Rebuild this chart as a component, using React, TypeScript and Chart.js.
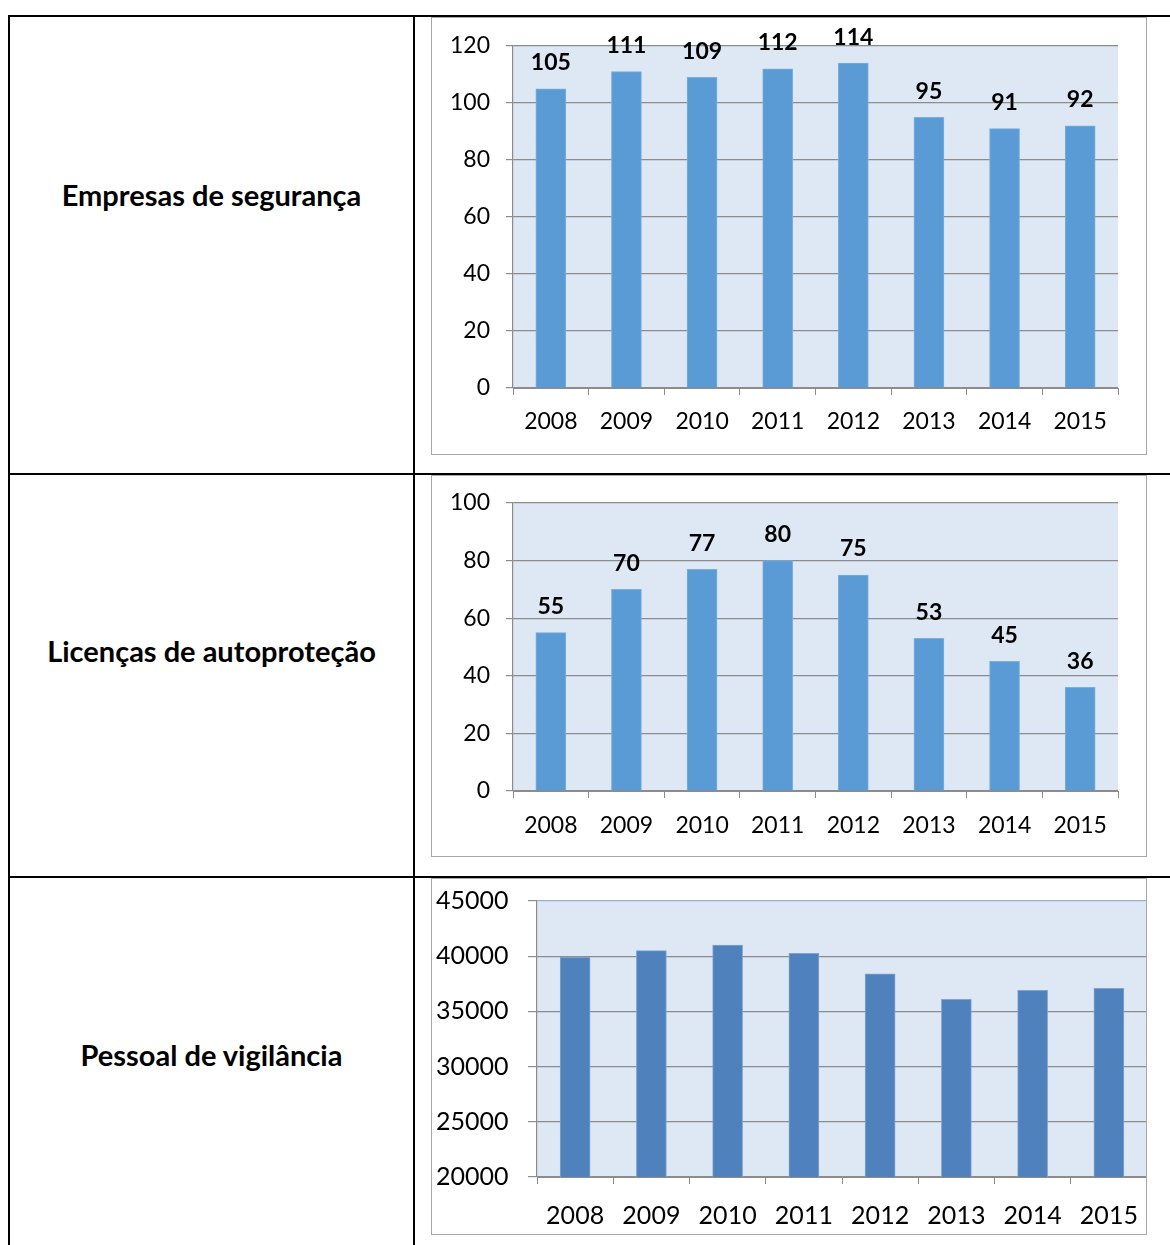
import React, { useEffect, useRef } from "react";
import { Chart, registerables } from "chart.js";
Chart.register(...registerables);

const years = ["2008", "2009", "2010", "2011", "2012", "2013", "2014", "2015"];
const empresas = [105, 111, 109, 112, 114, 95, 91, 92];
const licencas = [55, 70, 77, 80, 75, 53, 45, 36];
const pessoal = [39900, 40500, 41000, 40250, 38400, 36100, 36900, 37100];
const rowLabels = ["Empresas de segurança", "Licenças de autoproteção", "Pessoal de vigilância"];

const GRID = "#8C8C8C";
const PLOT_BG = "#DDE8F4";
const FONT = "Lato, 'Open Sans', sans-serif";

const bgPlugin = {
  id: "plotBg",
  beforeDraw(chart: any) {
    const { ctx, chartArea: a } = chart;
    ctx.save();
    ctx.fillStyle = PLOT_BG;
    ctx.fillRect(a.left, a.top, a.right - a.left, a.bottom - a.top);
    ctx.restore();
  },
};

const labelPlugin = {
  id: "valLabels",
  afterDatasetsDraw(chart: any, _args: any, opts: any) {
    if (!opts || !opts.show) return;
    const { ctx } = chart;
    const meta = chart.getDatasetMeta(0);
    const data = chart.data.datasets[0].data;
    ctx.save();
    ctx.font = `bold ${opts.size}px ${FONT}`;
    ctx.fillStyle = "#000";
    ctx.textAlign = "center";
    ctx.textBaseline = "middle";
    meta.data.forEach((el: any, i: number) => {
      ctx.fillText(String(data[i]), el.x, el.y - opts.offset);
    });
    ctx.restore();
  },
};

type Spec = {
  data: number[];
  min: number;
  max: number;
  step: number;
  color: string;
  border: string;
  w: number;
  h: number;
  padTop: number;
  padRight: number;
  padLeft: number;
  yWidth: number;
  xHeight: number;
  fontSize: number;
  yTickLen: number;
  yPad: number;
  yAlign: "near" | "far";
  xPad: number;
  showLabels: boolean;
  topLine?: string;
};

function ChartBox({ spec, left, top }: { spec: Spec; left: number; top: number }) {
  const ref = useRef<HTMLCanvasElement>(null);
  useEffect(() => {
    const chart = new Chart(ref.current as HTMLCanvasElement, {
      type: "bar",
      data: {
        labels: years,
        datasets: [
          {
            data: spec.data,
            backgroundColor: spec.color,
            borderColor: spec.border,
            borderWidth: 1,
            barThickness: 30,
          },
        ],
      },
      options: {
        responsive: false,
        animation: false,
        devicePixelRatio: 1,
        layout: { padding: { top: spec.padTop, right: spec.padRight, left: spec.padLeft, bottom: 0 } },
        plugins: {
          legend: { display: false },
          tooltip: { enabled: false },
          valLabels: { show: spec.showLabels, size: 23, offset: 26 },
        } as any,
        scales: {
          x: {
            grid: {
              offset: true,
              drawOnChartArea: false,
              tickLength: 7,
              color: GRID,
            },
            border: { color: GRID, width: 1 },
            ticks: { color: "#000", font: { family: FONT, size: spec.fontSize }, padding: spec.xPad, maxRotation: 0 },
            afterFit: (s: any) => {
              s.height = spec.xHeight;
              s.paddingLeft = 0;
              s.paddingRight = 0;
            },
          },
          y: {
            min: spec.min,
            max: spec.max,
            ticks: {
              stepSize: spec.step,
              color: "#000",
              font: { family: FONT, size: spec.fontSize, lineHeight: 1 },
              padding: spec.yPad,
              crossAlign: spec.yAlign,
              callback: (v: any) => String(v),
            },
            grid: {
              color: (c: any) => (spec.topLine && c.tick && c.tick.value === spec.max ? spec.topLine : GRID),
              tickColor: GRID,
              tickLength: spec.yTickLen,
              lineWidth: 1.2,
            },
            border: { color: GRID, width: 1.2 },
            afterFit: (s: any) => {
              s.width = spec.yWidth;
            },
          },
        },
      },
      plugins: [bgPlugin, labelPlugin],
    });
    return () => chart.destroy();
  }, []);
  return (
    <>
      <canvas
        ref={ref}
        width={spec.w}
        height={spec.h}
        style={{ position: "absolute", left, top, width: spec.w, height: spec.h }}
      />
      <div
        style={{
          position: "absolute",
          left,
          top,
          width: spec.w - 2,
          height: spec.h - 2,
          border: "1.5px solid #A8A8A8",
          pointerEvents: "none",
        }}
      />
    </>
  );
}

const spec1: Spec = {
  data: empresas, min: 0, max: 120, step: 20, color: "#5B9BD5", border: "#7AAEDD",
  w: 716, h: 438, padTop: 29, padRight: 29, padLeft: 0, yWidth: 82, xHeight: 67, fontSize: 23,
  yTickLen: 7, yPad: 16, yAlign: "near", xPad: 13, showLabels: true,
};
const spec2: Spec = {
  data: licencas, min: 0, max: 100, step: 20, color: "#5B9BD5", border: "#7AAEDD",
  w: 716, h: 382, padTop: 28, padRight: 29, padLeft: 0, yWidth: 82, xHeight: 66, fontSize: 23,
  yTickLen: 7, yPad: 16, yAlign: "near", xPad: 14, showLabels: true,
};
const spec3: Spec = {
  data: pessoal, min: 20000, max: 45000, step: 5000, color: "#4F81BD", border: "#7EA3D3",
  w: 716, h: 357, padTop: 23, padRight: 0, padLeft: 5, yWidth: 101, xHeight: 58, fontSize: 25,
  yTickLen: 9, yPad: 0, yAlign: "far", xPad: 17, showLabels: false, topLine: "#95B3D7",
};

const line = (l: number, t: number, w: number, h: number) => (
  <div style={{ position: "absolute", left: l, top: t, width: w, height: h, background: "#000" }} />
);

const labelStyle = (cy: number): React.CSSProperties => ({
  position: "absolute",
  left: 10,
  width: 403,
  top: cy - 20,
  height: 40,
  lineHeight: "40px",
  textAlign: "center",
  fontFamily: FONT,
  fontWeight: "bold",
  fontSize: 29,
  color: "#000",
  whiteSpace: "nowrap",
});

export default function App() {
  return (
    <div
      style={{
        position: "absolute",
        left: 0,
        top: 0,
        width: 1170,
        height: 1245,
        overflow: "hidden",
        background: "#fff",
      }}
    >
      {line(8, 15, 1162, 2)}
      {line(8, 15, 2, 1230)}
      {line(413, 15, 2, 1230)}
      {line(8, 473, 1162, 2)}
      {line(8, 876, 1162, 2)}
      <div style={labelStyle(195)}>{rowLabels[0]}</div>
      <div style={labelStyle(651)}>{rowLabels[1]}</div>
      <div style={labelStyle(1055)}>{rowLabels[2]}</div>
      <ChartBox spec={spec1} left={431} top={17} />
      <ChartBox spec={spec2} left={431} top={475} />
      <ChartBox spec={spec3} left={431} top={878} />
    </div>
  );
}
